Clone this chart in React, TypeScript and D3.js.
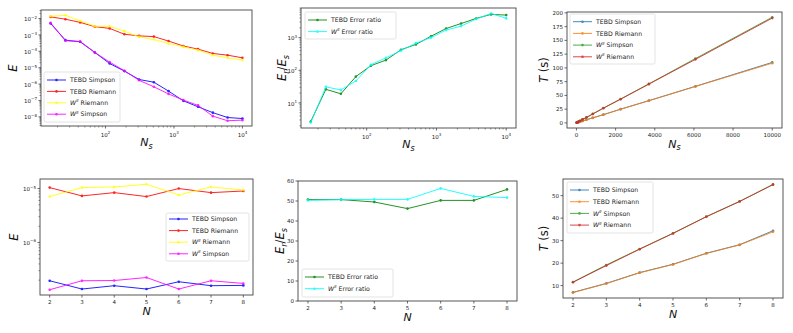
import * as d3 from "d3";

// sample counts (top row) and number of sites (bottom row)
const nsValues = [15.8, 26, 42.7, 70, 115, 189, 310, 509, 836, 1373, 2254, 3700, 6077, 10000];
const nValues = [2, 3, 4, 5, 6, 7, 8];

// top row: error vs Ns
const errTebdSimpson = [5.0e-3, 4.8e-4, 3.8e-4, 8.5e-5, 1.8e-5, 6.2e-6, 1.9e-6, 1.3e-6, 3.7e-7, 9.5e-8, 4.1e-8, 1.8e-8, 9.1e-9, 7.9e-9];
const errTebdRiemann = [1.26e-2, 9.1e-3, 5.8e-3, 3.2e-3, 2.5e-3, 1.1e-3, 8.7e-4, 7.9e-4, 4.2e-4, 2.1e-4, 1.35e-4, 7.4e-5, 5.8e-5, 4.0e-5];
const errWRiemann = [1.38e-2, 1.58e-2, 7.2e-3, 3.4e-3, 3.4e-3, 1.7e-3, 7.6e-4, 5.2e-4, 3.0e-4, 1.86e-4, 1.17e-4, 5.8e-5, 4.0e-5, 2.9e-5];
const errWSimpson = [5.5e-3, 4.4e-4, 4.0e-4, 8.5e-5, 2.2e-5, 6.5e-6, 1.7e-6, 6.8e-7, 2.5e-7, 1.05e-7, 5.0e-8, 1.1e-8, 5.8e-9, 6.3e-9];

const ratioTebdNs = [2.7, 26, 19, 64, 138, 205, 425, 620, 1100, 1900, 2700, 3870, 5150, 4900];
const ratioWNs = [2.5, 31, 25, 47, 148, 240, 400, 680, 1000, 1700, 2250, 3700, 5500, 3900];

const timeTebdSimpsonNs = [0.4, 0.5, 0.7, 1.0, 1.5, 2.3, 3.6, 5.8, 9.3, 15, 25, 40.5, 66.5, 110];
const timeTebdRiemannNs = [0.35, 0.45, 0.65, 0.95, 1.45, 2.2, 3.5, 5.7, 9.2, 14.8, 24.8, 40.3, 66.2, 108.5];
const timeWSimpsonNs = [0.6, 0.8, 1.1, 1.7, 2.5, 4, 6.5, 10, 16.5, 27, 43.5, 71, 117, 192];
const timeWRiemannNs = [0.55, 0.75, 1.05, 1.65, 2.4, 3.9, 6.4, 9.9, 16.3, 26.7, 43, 70.5, 115.5, 190.5];

// bottom row: vs N
const errNTebdSimpson = [1.95e-7, 1.37e-7, 1.58e-7, 1.37e-7, 1.87e-7, 1.58e-7, 1.6e-7];
const errNTebdRiemann = [1.04e-5, 7.3e-6, 8.4e-6, 7.1e-6, 1.0e-5, 8.4e-6, 9.0e-6];
const errNWRiemann = [7.1e-6, 1.04e-5, 1.07e-5, 1.2e-5, 7.6e-6, 1.07e-5, 9.4e-6];
const errNWSimpson = [1.33e-7, 1.95e-7, 1.97e-7, 2.24e-7, 1.37e-7, 1.95e-7, 1.74e-7];

const ratioTebdN = [50.7, 50.7, 49.5, 46.2, 50.3, 50.3, 55.8];
const ratioWN = [50.3, 50.7, 50.8, 50.8, 56.3, 52.3, 51.7];

const timeTebdSimpsonN = [7.0, 11.0, 15.8, 19.5, 24.4, 28.2, 34.4];
const timeTebdRiemannN = [6.9, 10.9, 15.7, 19.4, 24.3, 28.1, 33.9];
const timeWSimpsonN = [11.6, 19.2, 26.3, 33.3, 40.7, 47.5, 55.0];
const timeWRiemannN = [11.5, 18.9, 26.2, 33.2, 40.6, 47.4, 54.9];

const ticksNs = [0, 2000, 4000, 6000, 8000, 10000];
const ticksTimeNs = [0, 25, 50, 75, 100, 125, 150, 175, 200];
const ticksRatioN = [0, 10, 20, 30, 40, 50, 60];
const ticksTimeN = [10, 20, 30, 40, 50];

const FONT = "DejaVu Sans, sans-serif";
const AX = "#444";

type Series = { label: string; values: number[]; color: string };
type Frame = { x0: number; x1: number; y0: number; y1: number };
type Legend = { x: number; y: number; w: number; h: number; row0: number; step: number };

function padded(vals: number[], log: boolean): [number, number] {
  const [lo, hi] = d3.extent(vals) as [number, number];
  if (log) {
    const a = Math.log10(lo), b = Math.log10(hi), m = (b - a) * 0.05;
    return [10 ** (a - m), 10 ** (b + m)];
  }
  const m = (hi - lo) * 0.05;
  return [lo - m, hi + m];
}

function logTicks(domain: [number, number]) {
  const major: number[] = [];
  const minor: number[] = [];
  for (let e = Math.floor(Math.log10(domain[0])); e <= Math.ceil(Math.log10(domain[1])); e++) {
    for (let k = 1; k < 10; k++) {
      const v = k * 10 ** e;
      if (v < domain[0] || v > domain[1]) continue;
      if (k === 1) major.push(e);
      else minor.push(v);
    }
  }
  return { major, minor };
}

function expText(e: number) {
  return e < 0 ? "\u2212" + -e : String(e);
}

function SeriesLabel({ label }: { label: string }) {
  if (label.startsWith("W^II")) {
    return (
      <>
        <tspan fontStyle="italic">W</tspan>
        <tspan fontStyle="italic" fontSize={4.2} dy={-2.6}>II</tspan>
        <tspan dy={2.6}>{label.slice(4)}</tspan>
      </>
    );
  }
  return <>{label}</>;
}

function AxisLabel({ kind }: { kind: string }) {
  if (kind === "Ns")
    return (
      <>
        <tspan fontStyle="italic">N</tspan>
        <tspan fontStyle="italic" fontSize={8} dy={2.5}>s</tspan>
      </>
    );
  if (kind === "ratio")
    return (
      <>
        <tspan fontStyle="italic">E</tspan>
        <tspan fontStyle="italic" fontSize={8} dy={2.5}>r</tspan>
        <tspan dy={-2.5}>/</tspan>
        <tspan fontStyle="italic">E</tspan>
        <tspan fontStyle="italic" fontSize={8} dy={2.5}>s</tspan>
      </>
    );
  if (kind === "T")
    return (
      <>
        <tspan fontStyle="italic">T</tspan>
        <tspan> (s)</tspan>
      </>
    );
  return <tspan fontStyle="italic">{kind}</tspan>;
}

type PanelProps = {
  frame: Frame;
  xs: number[];
  xLog: boolean;
  yLog: boolean;
  yDomain?: [number, number];
  xTickVals?: number[];
  yTickVals?: number[];
  series: Series[];
  legend: Legend;
  xLabel: string;
  yLabel: string;
  yLabelX: number;
};

function Panel(p: PanelProps) {
  const { frame, series, legend } = p;
  const xDom = padded(p.xs, p.xLog);
  const yDom = p.yDomain ?? padded(series.flatMap((s) => s.values), p.yLog);
  const x = (p.xLog ? d3.scaleLog() : d3.scaleLinear()).domain(xDom).range([frame.x0, frame.x1]);
  const y = (p.yLog ? d3.scaleLog() : d3.scaleLinear()).domain(yDom).range([frame.y1, frame.y0]);
  const line = d3
    .line<[number, number]>()
    .x((d) => x(d[0]))
    .y((d) => y(d[1]));

  const xLogT = p.xLog ? logTicks(xDom) : null;
  const yLogT = p.yLog ? logTicks(yDom) : null;

  return (
    <g>
      {/* data */}
      {series.map((s) => {
        const pts = p.xs.map((v, i) => [v, s.values[i]] as [number, number]);
        return (
          <g key={s.label} opacity={0.85}>
            <path d={line(pts) ?? ""} fill="none" stroke={s.color} strokeWidth={1} />
            {pts.map((d, i) => (
              <circle key={i} cx={x(d[0])} cy={y(d[1])} r={1.3} fill={s.color} />
            ))}
          </g>
        );
      })}

      {/* frame */}
      <rect
        x={frame.x0}
        y={frame.y0}
        width={frame.x1 - frame.x0}
        height={frame.y1 - frame.y0}
        fill="none"
        stroke={AX}
        strokeWidth={0.9}
      />

      {/* x ticks */}
      {xLogT ? (
        <g>
          {xLogT.minor.map((v) => (
            <line key={v} x1={x(v)} x2={x(v)} y1={frame.y1} y2={frame.y1 + 1.5} stroke={AX} strokeWidth={0.6} />
          ))}
          {xLogT.major.map((e) => (
            <g key={e} transform={`translate(${x(10 ** e)},${frame.y1})`}>
              <line y2={2.5} stroke={AX} strokeWidth={0.8} />
              <text y={10.5} textAnchor="middle" fontSize={5.5} fontFamily={FONT} fill="#222">
                10<tspan fontSize={4} dy={-2.6}>{expText(e)}</tspan>
              </text>
            </g>
          ))}
        </g>
      ) : (
        (p.xTickVals ?? []).map((v) => (
          <g key={v} transform={`translate(${x(v)},${frame.y1})`}>
            <line y2={2.5} stroke={AX} strokeWidth={0.8} />
            <text y={9} textAnchor="middle" fontSize={5.5} fontFamily={FONT} fill="#222">
              {v}
            </text>
          </g>
        ))
      )}

      {/* y ticks */}
      {yLogT ? (
        <g>
          {yLogT.minor.map((v) => (
            <line key={v} x1={frame.x0} x2={frame.x0 - 1.5} y1={y(v)} y2={y(v)} stroke={AX} strokeWidth={0.6} />
          ))}
          {yLogT.major.map((e) => (
            <g key={e} transform={`translate(${frame.x0},${y(10 ** e)})`}>
              <line x2={-2.5} stroke={AX} strokeWidth={0.8} />
              <text x={-4} y={2.6} textAnchor="end" fontSize={5.5} fontFamily={FONT} fill="#222">
                10<tspan fontSize={4} dy={-2.6}>{expText(e)}</tspan>
              </text>
            </g>
          ))}
        </g>
      ) : (
        (p.yTickVals ?? []).map((v) => (
          <g key={v} transform={`translate(${frame.x0},${y(v)})`}>
            <line x2={-2.5} stroke={AX} strokeWidth={0.8} />
            <text x={-4} y={2} textAnchor="end" fontSize={5.5} fontFamily={FONT} fill="#222">
              {v}
            </text>
          </g>
        ))
      )}

      {/* axis labels */}
      <text
        x={(frame.x0 + frame.x1) / 2}
        y={frame.y1 + (p.xLog ? 20 : 19.8)}
        textAnchor="middle"
        fontSize={11}
        fontFamily={FONT}
        fill="#111"
      >
        <AxisLabel kind={p.xLabel} />
      </text>
      <text
        transform={`translate(${p.yLabelX},${(frame.y0 + frame.y1) / 2}) rotate(-90)`}
        textAnchor="middle"
        fontSize={11.5}
        fontFamily={FONT}
        fill="#111"
      >
        <AxisLabel kind={p.yLabel} />
      </text>

      {/* legend */}
      <g>
        <rect
          x={legend.x}
          y={legend.y}
          width={legend.w}
          height={legend.h}
          rx={1.5}
          fill="white"
          fillOpacity={0.85}
          stroke="#d0d0d0"
          strokeWidth={0.6}
        />
        {series.map((s, i) => {
          const ry = legend.y + legend.row0 + i * legend.step;
          return (
            <g key={s.label} transform={`translate(${legend.x + 3},${ry})`}>
              <g opacity={0.85}>
                <line x1={0} x2={19} stroke={s.color} strokeWidth={1} />
                <circle cx={9.5} cy={0} r={1.3} fill={s.color} />
              </g>
              <text x={23} y={2.2} fontSize={6.2} fontFamily={FONT} fill="#222">
                <SeriesLabel label={s.label} />
              </text>
            </g>
          );
        })}
      </g>
    </g>
  );
}

export default function App() {
  return (
    <div style={{ position: "absolute", left: 0, top: 0 }}>
      <svg width={793} height={333} style={{ display: "block", background: "white" }}>
        <Panel
          frame={{ x0: 41, x1: 252, y0: 10, y1: 126 }}
          xs={nsValues}
          xLog
          yLog
          series={[
            { label: "TEBD Simpson", values: errTebdSimpson, color: "#0000ff" },
            { label: "TEBD Riemann", values: errTebdRiemann, color: "#ff0000" },
            { label: "W^II Riemann", values: errWRiemann, color: "#ffff00" },
            { label: "W^II Simpson", values: errWSimpson, color: "#ff00ff" },
          ]}
          legend={{ x: 44, y: 72, w: 76, h: 50, row0: 8, step: 11.4 }}
          xLabel="Ns"
          yLabel="E"
          yLabelX={17}
        />
        <Panel
          frame={{ x0: 301, x1: 516, y0: 8, y1: 128 }}
          xs={nsValues}
          xLog
          yLog
          series={[
            { label: "TEBD Error ratio", values: ratioTebdNs, color: "#008000" },
            { label: "W^II Error ratio", values: ratioWNs, color: "#00ffff" },
          ]}
          legend={{ x: 305, y: 12, w: 91, h: 27, row0: 8, step: 11.6 }}
          xLabel="Ns"
          yLabel="ratio"
          yLabelX={286}
        />
        <Panel
          frame={{ x0: 567, x1: 782, y0: 12, y1: 128 }}
          xs={nsValues}
          xLog={false}
          yLog={false}
          xTickVals={ticksNs}
          yTickVals={ticksTimeNs}
          series={[
            { label: "TEBD Simpson", values: timeTebdSimpsonNs, color: "#1f77b4" },
            { label: "TEBD Riemann", values: timeTebdRiemannNs, color: "#ff7f0e" },
            { label: "W^II Simpson", values: timeWSimpsonNs, color: "#2ca02c" },
            { label: "W^II Riemann", values: timeWRiemannNs, color: "#d62728" },
          ]}
          legend={{ x: 570, y: 14, w: 85, h: 50, row0: 7.7, step: 11.7 }}
          xLabel="Ns"
          yLabel="T"
          yLabelX={548}
        />

        <Panel
          frame={{ x0: 40, x1: 253, y0: 179, y1: 295 }}
          xs={nValues}
          xLog={false}
          yLog
          xTickVals={nValues}
          series={[
            { label: "TEBD Simpson", values: errNTebdSimpson, color: "#0000ff" },
            { label: "TEBD Riemann", values: errNTebdRiemann, color: "#ff0000" },
            { label: "W^II Riemann", values: errNWRiemann, color: "#ffff00" },
            { label: "W^II Simpson", values: errNWSimpson, color: "#ff00ff" },
          ]}
          legend={{ x: 166, y: 213, w: 83, h: 48, row0: 6, step: 11.6 }}
          xLabel="N"
          yLabel="E"
          yLabelX={18}
        />
        <Panel
          frame={{ x0: 298, x1: 517, y0: 181, y1: 301 }}
          xs={nValues}
          xLog={false}
          yLog={false}
          yDomain={[0, 60]}
          xTickVals={nValues}
          yTickVals={ticksRatioN}
          series={[
            { label: "TEBD Error ratio", values: ratioTebdN, color: "#008000" },
            { label: "W^II Error ratio", values: ratioWN, color: "#00ffff" },
          ]}
          legend={{ x: 302, y: 269, w: 91, h: 28, row0: 8, step: 11.7 }}
          xLabel="N"
          yLabel="ratio"
          yLabelX={284}
        />
        <Panel
          frame={{ x0: 563, x1: 783, y0: 179, y1: 298 }}
          xs={nValues}
          xLog={false}
          yLog={false}
          xTickVals={nValues}
          yTickVals={ticksTimeN}
          series={[
            { label: "TEBD Simpson", values: timeTebdSimpsonN, color: "#1f77b4" },
            { label: "TEBD Riemann", values: timeTebdRiemannN, color: "#ff7f0e" },
            { label: "W^II Simpson", values: timeWSimpsonN, color: "#2ca02c" },
            { label: "W^II Riemann", values: timeWRiemannN, color: "#d62728" },
          ]}
          legend={{ x: 567, y: 182, w: 86, h: 51, row0: 8, step: 11.7 }}
          xLabel="N"
          yLabel="T"
          yLabelX={548}
        />
      </svg>
    </div>
  );
}
